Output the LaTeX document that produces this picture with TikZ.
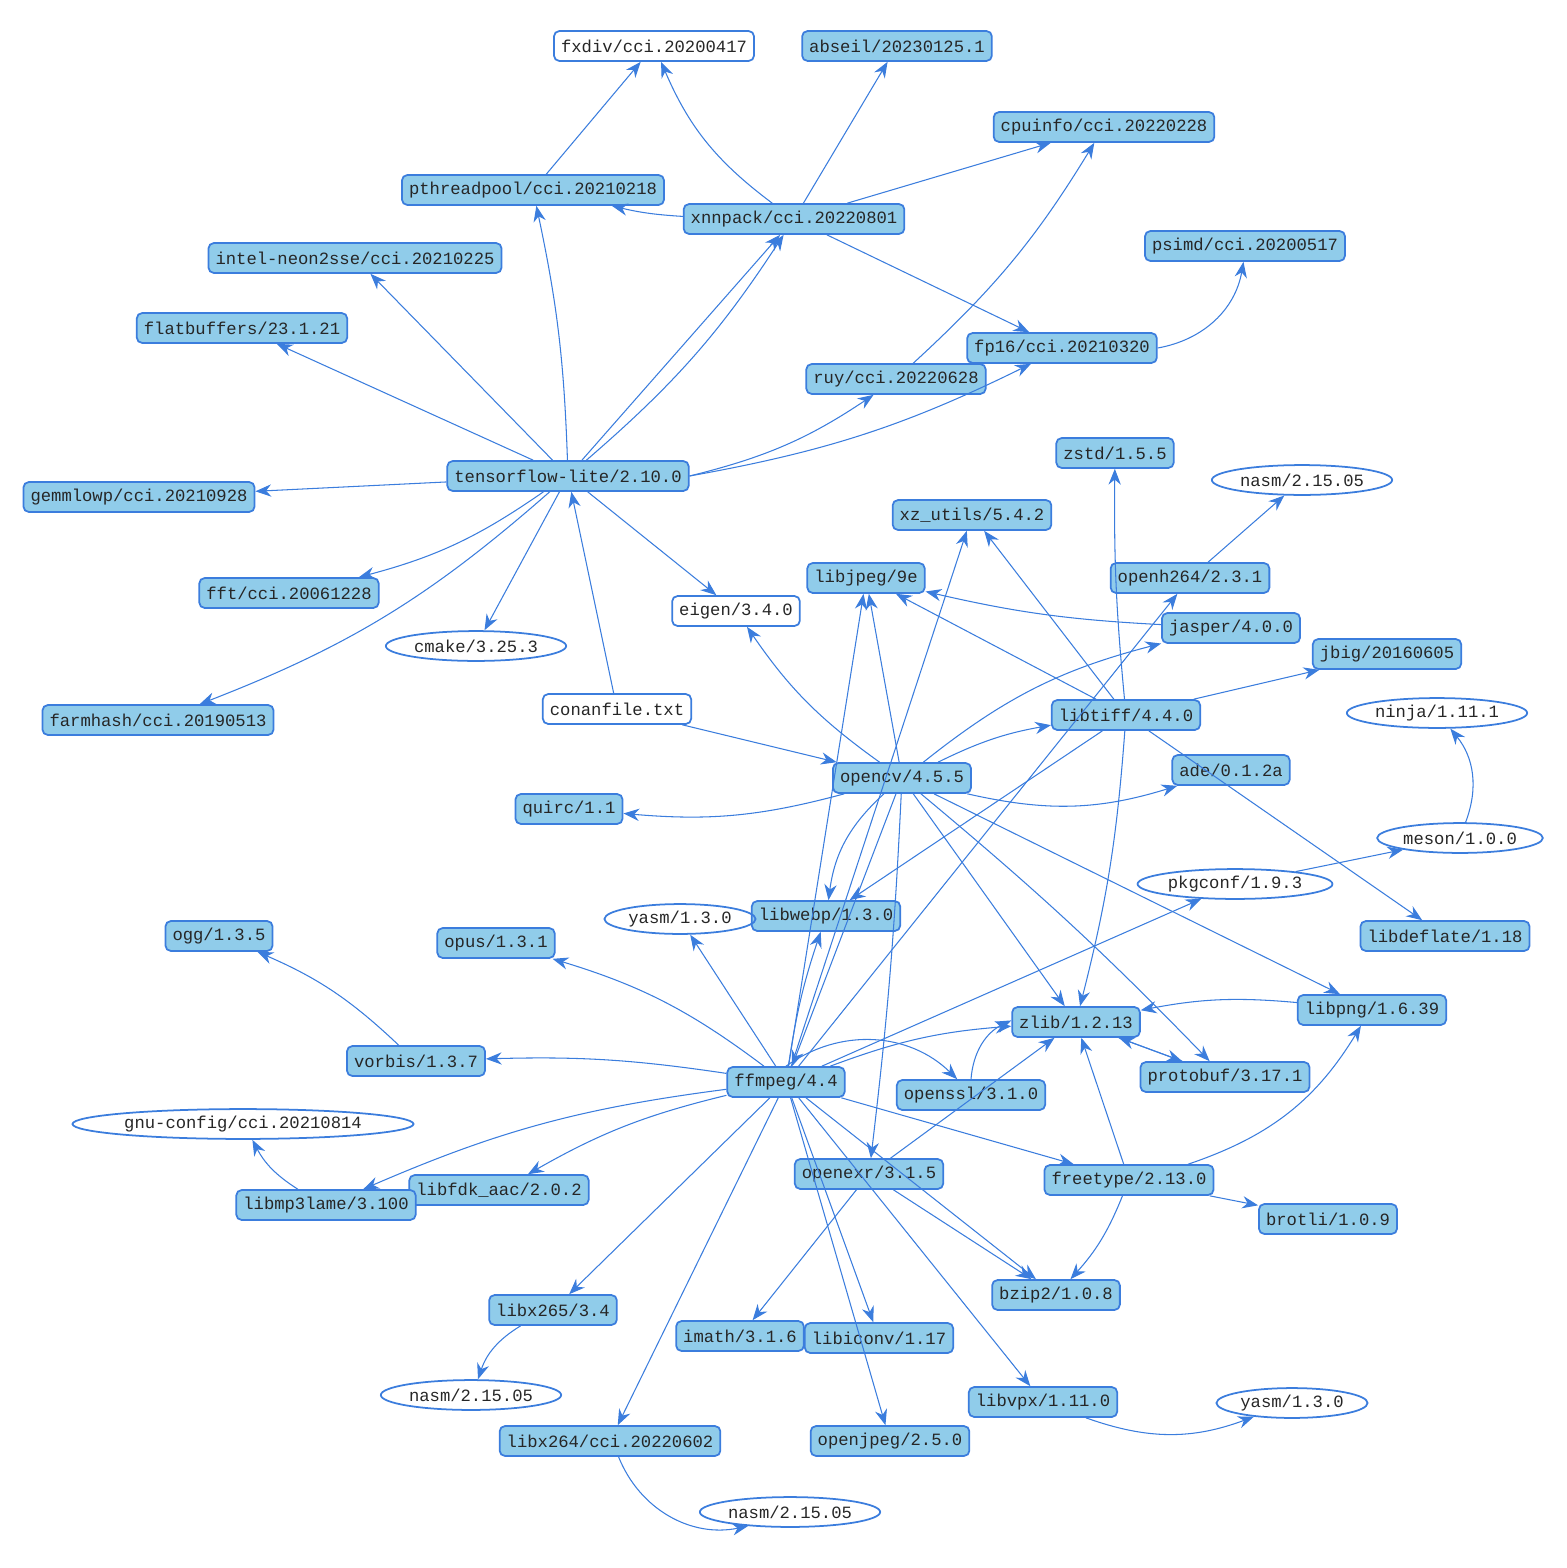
\documentclass[tikz,border=0pt]{standalone}
\usepackage{fontspec}
\setmonofont{Liberation Mono}
\usetikzlibrary{arrows.meta,shapes.geometric}
\definecolor{bl}{RGB}{59,125,221}
\definecolor{fl}{RGB}{144,204,234}
\tikzset{
 pkg/.style={draw=bl,fill=fl,rounded corners=3pt,line width=1pt,font=\ttfamily\fontsize{9.8}{11}\selectfont,inner xsep=4pt,inner ysep=3.2pt,minimum height=17pt,text=black!85},
 wbox/.style={pkg,fill=white},
 ell/.style={draw=bl,ellipse,line width=1pt,font=\ttfamily\fontsize{9.8}{11}\selectfont,inner xsep=1pt,inner ysep=1pt,minimum height=17pt,text=black!85},
 e/.style={draw=bl,line width=0.6pt,-{Stealth[length=9pt,width=7pt]}},
 l/.style={draw=bl,line width=0.6pt}
}
\begin{document}
\begin{tikzpicture}[x=0.02cm,y=-0.02cm]
\useasboundingbox (0,0) rectangle (1566,1568);
\node[wbox] (fxdiv) at (654,46) {fxdiv/cci.20200417};
\node[pkg] (abseil) at (897,46) {abseil/20230125.1};
\node[pkg] (cpuinfo) at (1104,127) {cpuinfo/cci.20220228};
\node[pkg] (pthr) at (533,190) {pthreadpool/cci.20210218};
\node[pkg] (xnn) at (794,219) {xnnpack/cci.20220801};
\node[pkg] (psimd) at (1245,246) {psimd/cci.20200517};
\node[pkg] (neon) at (355,258) {intel-neon2sse/cci.20210225};
\node[pkg] (flat) at (242,328) {flatbuffers/23.1.21};
\node[pkg] (fp16) at (1062,348) {fp16/cci.20210320};
\node[pkg] (ruy) at (896,379) {ruy/cci.20220628};
\node[pkg] (zstd) at (1115,453) {zstd/1.5.5};
\node[ell] (nasmA) at (1302,480) {nasm/2.15.05};
\node[pkg] (tfl) at (568,476) {tensorflow-lite/2.10.0};
\node[pkg] (gemm) at (139,497) {gemmlowp/cci.20210928};
\node[pkg] (xz) at (972,515) {xz\_utils/5.4.2};
\node[pkg] (jpeg) at (866,578) {libjpeg/9e};
\node[pkg] (h264) at (1190,578) {openh264/2.3.1};
\node[pkg] (fft) at (289,593) {fft/cci.20061228};
\node[wbox] (eigen) at (736,611) {eigen/3.4.0};
\node[pkg] (jasper) at (1231,628) {jasper/4.0.0};
\node[ell] (cmake) at (476,646) {cmake/3.25.3};
\node[pkg] (jbig) at (1387,654) {jbig/20160605};
\node[wbox] (conan) at (617,709) {conanfile.txt};
\node[pkg] (tiff) at (1126,715) {libtiff/4.4.0};
\node[ell] (ninja) at (1437,713) {ninja/1.11.1};
\node[pkg] (farm) at (158,720) {farmhash/cci.20190513};
\node[pkg] (cv) at (902,778) {opencv/4.5.5};
\node[pkg] (ade) at (1231,770) {ade/0.1.2a};
\node[pkg] (quirc) at (569,809) {quirc/1.1};
\node[ell] (meson) at (1460,838) {meson/1.0.0};
\node[ell] (pkgc) at (1235,884) {pkgconf/1.9.3};
\node[pkg] (webp) at (826,916) {libwebp/1.3.0};
\node[ell] (yasmA) at (680,919) {yasm/1.3.0};
\node[pkg] (ogg) at (219,936) {ogg/1.3.5};
\node[pkg] (opus) at (496,943) {opus/1.3.1};
\node[pkg] (defl) at (1445,936) {libdeflate/1.18};
\node[pkg] (png) at (1372,1010) {libpng/1.6.39};
\node[pkg] (zlib) at (1076,1022) {zlib/1.2.13};
\node[pkg] (vorbis) at (416,1061) {vorbis/1.3.7};
\node[pkg] (ff) at (786,1082) {ffmpeg/4.4};
\node[pkg] (proto) at (1225,1077) {protobuf/3.17.1};
\node[pkg] (ssl) at (971,1095) {openssl/3.1.0};
\node[ell] (gnu) at (243,1124) {gnu-config/cci.20210814};
\node[pkg] (exr) at (869,1174) {openexr/3.1.5};
\node[pkg] (ft) at (1129,1180) {freetype/2.13.0};
\node[pkg] (fdk) at (499,1190) {libfdk\_aac/2.0.2};
\node[pkg] (mp3) at (326,1205) {libmp3lame/3.100};
\node[pkg] (brotli) at (1328,1219) {brotli/1.0.9};
\node[pkg] (bzip) at (1056,1295) {bzip2/1.0.8};
\node[pkg] (x265) at (553,1310) {libx265/3.4};
\node[pkg] (imath) at (740,1336) {imath/3.1.6};
\node[pkg] (iconv) at (879,1338) {libiconv/1.17};
\node[ell] (nasmB) at (471,1395) {nasm/2.15.05};
\node[pkg] (vpx) at (1043,1402) {libvpx/1.11.0};
\node[ell] (yasmB) at (1292,1403) {yasm/1.3.0};
\node[pkg] (ojpeg) at (890,1441) {openjpeg/2.5.0};
\node[pkg] (x264) at (610,1441) {libx264/cci.20220602};
\node[ell] (nasmC) at (790,1512) {nasm/2.15.05};
% tflite group
\draw[e] (pthr) -- (fxdiv);
\draw[e] (xnn) to[bend left=15] (fxdiv);
\draw[e] (xnn) -- (abseil);
\draw[e] (xnn) -- (cpuinfo);
\draw[e] (xnn) to[bend left=5] (pthr);
\draw[e] (xnn) -- (fp16);
\draw[e] (fp16.east) to[bend right=35] (psimd);
\draw[e] (ruy) to[bend right=8] (cpuinfo);
\draw[e] (tfl) to[bend right=5] (pthr);
\draw[e] (tfl) -- (neon);
\draw[e] (tfl) -- (flat);
\draw[e] (tfl) to[bend right=8] (xnn);
\draw[e] (tfl) to[bend left=0] (xnn);
\draw[e] (tfl.east) to[bend right=10] (ruy);
\draw[e] (tfl.east) to[bend right=8] (fp16);
\draw[e] (tfl) -- (gemm);
\draw[e] (tfl) to[bend left=10] (fft);
\draw[e] (tfl) to[bend left=10] (farm);
\draw[e] (tfl) -- (cmake);
\draw[e] (tfl) -- (eigen);
\draw[e] (conan) -- (tfl);
\draw[e] (conan) -- (cv);
% opencv
\draw[e] (cv) to[bend left=10] (eigen);
\draw[e] (cv) to[bend left=10] (quirc);
\draw[e] (cv) -- (jpeg);
\draw[e] (cv) to[bend left=8] (tiff);
\draw[e] (cv) to[bend left=12] (jasper);
\draw[e] (cv) to[bend right=15] (ade);
\draw[e] (cv) to[bend right=20] (webp);
\draw[e] (cv) -- (zlib);
\draw[e] (cv) -- (png);
\draw[e] (cv) to[bend left=3] (proto);
\draw[e] (cv) to[bend left=2] (exr);
\draw[e] (cv) -- (ff);
% libtiff
\draw[e] (tiff) -- (jpeg);
\draw[e] (tiff) -- (xz);
\draw[e] (tiff) to[bend left=3] (zstd);
\draw[e] (tiff) -- (jbig);
\draw[e] (tiff) -- (defl);
\draw[e] (tiff) to[bend left=5] (zlib);
\draw[e] (tiff) -- (webp);
\draw[e] (jasper) to[bend left=5] (jpeg);
\draw[e] (h264) -- (nasmA);
\draw[e] (meson) to[bend right=30] (ninja);
\draw[e] (pkgc) -- (meson);
% ffmpeg
\draw[e] (ff) -- (xz);
\draw[e] (ff) -- (h264);
\draw[e] (ff) -- (jpeg);
\draw[e] (ff) to[bend left=5] (webp);
\draw[e] (ff) -- (pkgc);
\draw[e] (ff) -- (yasmA);
\draw[e] (ff) to[bend right=10] (opus);
\draw[e] (ff) to[bend right=5] (vorbis);
\draw[e] (ff) to[bend left=8] (zlib);
\draw[e] (ff.north) to[bend left=40] (ssl);
\draw[e] (ff) -- (ft);
\draw[e] (ff) to[bend right=8] (fdk);
\draw[e] (ff) to[bend right=8] (mp3);
\draw[e] (ff) -- (x265);
\draw[e] (ff) -- (x264);
\draw[e] (ff) -- (iconv);
\draw[e] (ff) -- (ojpeg);
\draw[e] (ff) -- (vpx);
\draw[e] (ff) -- (bzip);
\draw[e] (vorbis) to[bend right=10] (ogg);
\draw[e] (mp3) to[bend left=15] (gnu);
\draw[e] (x265) to[bend right=20] (nasmB);
\draw[e] (x264) to[bend right=40] (nasmC);
\draw[e] (vpx) to[bend right=20] (yasmB);
% zlib etc
\draw[e] (png) to[bend right=8] (zlib);
\draw[e] (proto) -- (zlib);
\draw[e] (zlib) -- (proto);
\draw[e] (ssl.north) to[bend left=30] (zlib);
\draw[e] (exr) -- (zlib);
\draw[e] (exr) -- (imath);
\draw[e] (exr) -- (bzip);
\draw[e] (ft) -- (zlib);
\draw[e] (ft) to[bend right=20] (png);
\draw[e] (ft) -- (brotli);
\draw[e] (ft) to[bend left=10] (bzip);
\end{tikzpicture}
\end{document}
